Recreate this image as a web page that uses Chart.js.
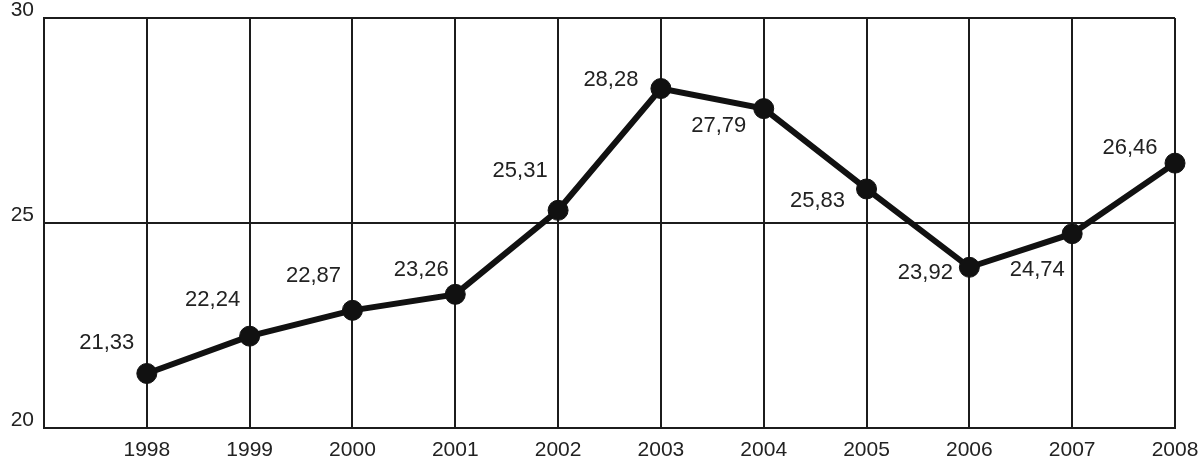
<!DOCTYPE html>
<html>
<head>
<meta charset="utf-8">
<script src="https://cdn.jsdelivr.net/npm/chart.js@4.4.1/dist/chart.umd.min.js"></script>
<style>
  html, body { margin: 0; padding: 0; background: #ffffff; }
  #wrap { width: 1200px; height: 470px; }
</style>
</head>
<body>
<div id="wrap"><canvas id="c" width="1200" height="470"></canvas></div>
<script>
// ---- data ----
const years = ['1998', '1999', '2000', '2001', '2002', '2003', '2004', '2005', '2006', '2007', '2008'];
const values = [21.33, 22.24, 22.87, 23.26, 25.31, 28.28, 27.79, 25.83, 23.92, 24.74, 26.46];
const yTicks = [20, 25, 30];

// ---- presentation ----
const INK = '#1c1c1c';
const FONT = "'Liberation Sans', Arial, sans-serif";
// label centre offsets relative to each point (style only)
const labelOffsets = [
  [-40, -31], [-37, -36], [-39, -34], [-34, -24], [-38, -39], [-50, -9],
  [-45, 17], [-49, 12], [-44, 6], [-35, 36], [-45, -15]
];

const valueLabels = {
  id: 'valueLabels',
  afterDatasetsDraw(chart) {
    const ctx = chart.ctx;
    const meta = chart.getDatasetMeta(0);
    ctx.save();
    ctx.font = '22px ' + FONT;
    ctx.fillStyle = '#222';
    ctx.textAlign = 'center';
    ctx.textBaseline = 'middle';
    meta.data.forEach((pt, i) => {
      const v = chart.data.datasets[0].data[i];
      if (v === null || v === undefined) return;
      const off = labelOffsets[i - 1] || [0, -25];
      ctx.fillText(v.toFixed(2).replace('.', ','), pt.x + off[0], pt.y + off[1]);
    });
    ctx.restore();
  }
};

new Chart(document.getElementById('c'), {
  type: 'line',
  data: {
    labels: [''].concat(years),
    datasets: [{
      data: [null].concat(values),
      borderColor: '#111',
      borderWidth: 6,
      pointRadius: 10,
      pointHoverRadius: 10,
      pointBackgroundColor: '#111',
      pointBorderColor: '#111',
      pointBorderWidth: 1,
      tension: 0,
      fill: false,
      clip: false
    }]
  },
  options: {
    responsive: false,
    animation: false,
    devicePixelRatio: 1,
    layout: { padding: { top: 18, right: 25, left: 0, bottom: 0 } },
    plugins: { legend: { display: false }, tooltip: { enabled: false } },
    scales: {
      x: {
        type: 'category',
        offset: false,
        grid: { color: INK, lineWidth: 2, drawTicks: false },
        border: { display: true, color: INK, width: 2 },
        ticks: {
          font: { size: 21, family: FONT },
          color: '#222',
          padding: 10,
          maxRotation: 0,
          autoSkip: false
        },
        afterFit(s) { s.height = 42; s.paddingLeft = 0; s.paddingRight = 0; }
      },
      y: {
        min: yTicks[0],
        max: yTicks[yTicks.length - 1],
        afterBuildTicks(s) { s.ticks = yTicks.map(v => ({ value: v })); },
        grid: { color: INK, lineWidth: 2, drawTicks: false },
        border: { display: true, color: INK, width: 2 },
        ticks: {
          font: { size: 21, family: FONT },
          color: '#222',
          padding: 10,
          labelOffset: -8
        },
        afterFit(s) { s.width = 44; s.paddingTop = 0; s.paddingBottom = 0; }
      }
    }
  },
  plugins: [valueLabels]
});
</script>
</body>
</html>
